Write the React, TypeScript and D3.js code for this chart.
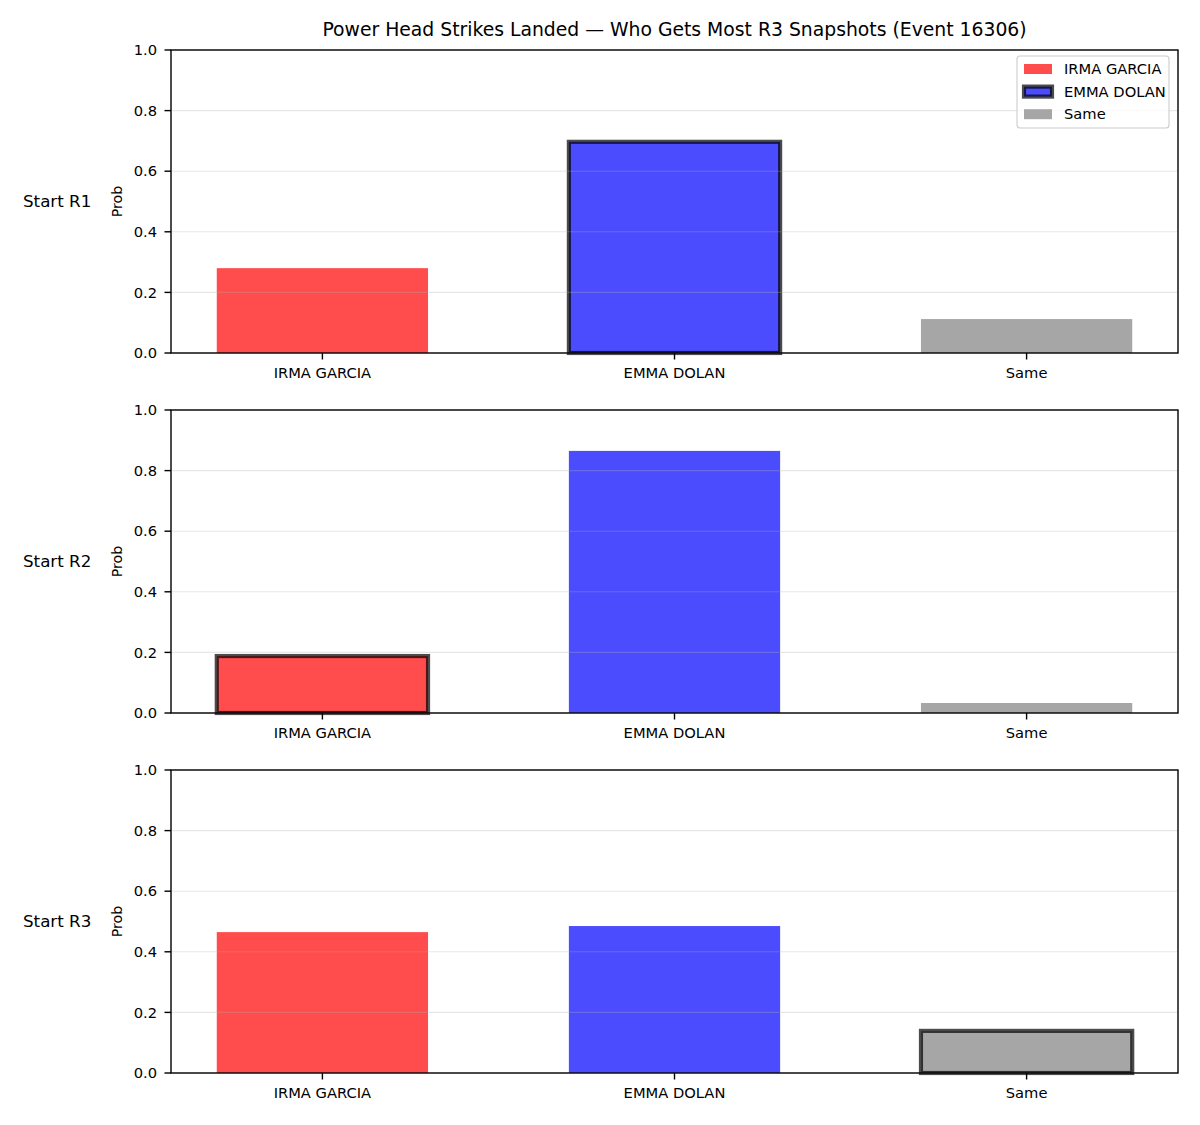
import React, { useEffect, useRef } from "react";
import * as d3 from "d3";

// outcome categories and per-start-round probabilities
const categories = ["IRMA GARCIA", "EMMA DOLAN", "Same"];
const rowLabels = ["Start R1", "Start R2", "Start R3"];
const irmaProb = [0.28, 0.188, 0.465];
const emmaProb = [0.697, 0.865, 0.485];
const sameProb = [0.112, 0.033, 0.139];
// index of the most likely outcome in each panel (gets the dark outline)
const bestIdx = [1, 0, 2];
const barColors = ["red", "blue", "gray"];
const yTicks = [0, 0.2, 0.4, 0.6, 0.8, 1.0];
const title =
  "Power Head Strikes Landed \u2014 Who Gets Most R3 Snapshots (Event 16306)";

const FONT = "DejaVu Sans, sans-serif";
const TICK_FS = 14.7;

export default function App() {
  const ref = useRef<SVGSVGElement>(null);

  useEffect(() => {
    const svg = d3.select(ref.current);
    svg.selectAll("*").remove();

    const left = 171;
    const right = 1178;
    const panelTops = [50, 410, 770];
    const panelH = 303;
    const tickLen = 6.5;

    const x = d3.scaleLinear().domain([-0.43, 2.43]).range([left, right]);
    const barW = x(0.6) - x(0);

    svg
      .append("text")
      .attr("x", (left + right) / 2)
      .attr("y", 36)
      .attr("text-anchor", "middle")
      .attr("font-size", 18.8)
      .text(title);

    const series = [irmaProb, emmaProb, sameProb];

    panelTops.forEach((top, p) => {
      const y = d3.scaleLinear().domain([0, 1]).range([top + panelH, top]);
      const g = svg.append("g");
      const values = series.map((s) => s[p]);

      // bars
      values.forEach((v, i) => {
        const isBest = bestIdx[p] === i;
        g.append("rect")
          .attr("x", x(i) - barW / 2)
          .attr("y", y(v))
          .attr("width", barW)
          .attr("height", y(0) - y(v))
          .attr("fill", barColors[i])
          .attr("fill-opacity", 0.7)
          .attr("stroke", isBest ? "black" : "none")
          .attr("stroke-opacity", 0.7)
          .attr("stroke-width", isBest ? 4.17 : 0);
      });

      // horizontal grid drawn over the bars
      yTicks.forEach((t) => {
        g.append("line")
          .attr("x1", left)
          .attr("x2", right)
          .attr("y1", y(t))
          .attr("y2", y(t))
          .attr("stroke", "#b0b0b0")
          .attr("stroke-opacity", 0.3)
          .attr("stroke-width", 1.1);
      });

      // frame
      g.append("rect")
        .attr("x", left)
        .attr("y", top)
        .attr("width", right - left)
        .attr("height", panelH)
        .attr("fill", "none")
        .attr("stroke", "black")
        .attr("stroke-width", 1.4);

      // y ticks
      yTicks.forEach((t) => {
        g.append("line")
          .attr("x1", left - tickLen)
          .attr("x2", left)
          .attr("y1", y(t))
          .attr("y2", y(t))
          .attr("stroke", "black")
          .attr("stroke-width", 1.4);
        g.append("text")
          .attr("x", left - 14)
          .attr("y", y(t))
          .attr("dy", "0.35em")
          .attr("text-anchor", "end")
          .attr("font-size", TICK_FS)
          .text(d3.format(".1f")(t));
      });

      // x ticks
      categories.forEach((c, i) => {
        g.append("line")
          .attr("x1", x(i))
          .attr("x2", x(i))
          .attr("y1", y(0))
          .attr("y2", y(0) + tickLen)
          .attr("stroke", "black")
          .attr("stroke-width", 1.4);
        g.append("text")
          .attr("x", x(i))
          .attr("y", y(0) + 14.2)
          .attr("dy", "0.76em")
          .attr("text-anchor", "middle")
          .attr("font-size", TICK_FS)
          .text(c);
      });

      // axis label and row label
      const midY = top + panelH / 2;
      g.append("text")
        .attr("transform", `translate(${122},${midY}) rotate(-90)`)
        .attr("text-anchor", "middle")
        .attr("font-size", 14.2)
        .text("Prob");
      g.append("text")
        .attr("x", 23)
        .attr("y", midY)
        .attr("dy", "0.35em")
        .attr("font-size", 16.7)
        .text(rowLabels[p]);

      // legend only on the first panel
      if (p === 0) {
        const lg = g.append("g");
        lg.append("rect")
          .attr("x", 1017)
          .attr("y", 56)
          .attr("width", 152)
          .attr("height", 72)
          .attr("rx", 3)
          .attr("fill", "white")
          .attr("fill-opacity", 0.8)
          .attr("stroke", "#cccccc")
          .attr("stroke-width", 1.1);
        categories.forEach((c, i) => {
          const cy = 69 + i * 22.6;
          const isBest = bestIdx[0] === i;
          lg.append("rect")
            .attr("x", 1024)
            .attr("y", cy - 5)
            .attr("width", 28)
            .attr("height", 10)
            .attr("fill", barColors[i])
            .attr("fill-opacity", 0.7)
            .attr("stroke", isBest ? "black" : "none")
            .attr("stroke-opacity", 0.7)
            .attr("stroke-width", isBest ? 4.17 : 0);
          lg.append("text")
            .attr("x", 1064)
            .attr("y", cy)
            .attr("dy", "0.35em")
            .attr("font-size", TICK_FS)
            .text(c);
        });
      }
    });
  }, []);

  return (
    <div style={{ position: "absolute", left: 0, top: 0 }}>
      <svg
        ref={ref}
        width={1200}
        height={1125}
        style={{ display: "block", background: "white", fontFamily: FONT }}
      />
    </div>
  );
}
